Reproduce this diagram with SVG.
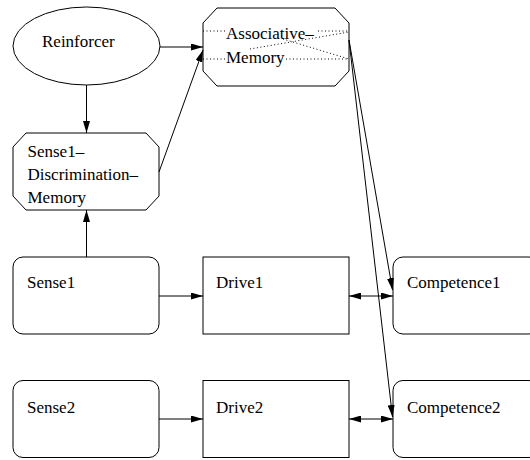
<svg xmlns="http://www.w3.org/2000/svg" width="530" height="460" viewBox="0 0 530 460">
  <style>
    .shape { fill: #ffffff; stroke: #000000; stroke-width: 1; }
    .lbl { font-family: "Liberation Serif", "Times New Roman", serif; font-size: 17px; fill: #000000; }
    .edge { fill: none; stroke: #000000; stroke-width: 1; }
    .dots { fill: none; stroke: #000000; stroke-width: 1; stroke-dasharray: 1 2.5; }
  </style>
  <defs>
    <marker id="ah" viewBox="0 0 12 7" refX="12" refY="3.5" markerWidth="12" markerHeight="7" orient="auto-start-reverse" markerUnits="userSpaceOnUse">
      <path d="M0,0 L12,3.5 L0,7 z" fill="#000000"/>
    </marker>
  </defs>

  <rect width="530" height="460" fill="#ffffff"/>

  <!-- nodes -->
  <g id="reinforcer">
    <ellipse class="shape" cx="86.5" cy="46" rx="73.5" ry="39"/>
    <text class="lbl" x="42" y="47">Reinforcer</text>
  </g>

  <g id="associative-memory">
    <polygon class="shape" points="217,8 335,8 349,23 349,71 335,86 217,86 203,71 203,23"/>
    <path class="dots" d="M203,31 H225 M318,31 H349 M203,59 H225 M286,59 H349 M250,49 L349,32 M283,39 L349,59"/>
    <text class="lbl" x="226" y="39">Associative–</text>
    <text class="lbl" x="226" y="63">Memory</text>
  </g>

  <g id="sense1-discrimination-memory">
    <polygon class="shape" points="26,133 146,133 159,147 159,196 146,210 26,210 13,196 13,147"/>
    <text class="lbl" x="27.5" y="157">Sense1–</text>
    <text class="lbl" x="27.5" y="180">Discrimination–</text>
    <text class="lbl" x="27.5" y="203">Memory</text>
  </g>

  <g id="sense1">
    <rect class="shape" x="13" y="257" width="146" height="77" rx="10"/>
    <text class="lbl" x="27" y="288">Sense1</text>
  </g>

  <g id="drive1">
    <rect class="shape" x="203" y="257" width="146" height="77"/>
    <text class="lbl" x="216" y="288">Drive1</text>
  </g>

  <g id="competence1">
    <rect class="shape" x="393" y="257" width="146" height="77" rx="10"/>
    <text class="lbl" x="407" y="288">Competence1</text>
  </g>

  <g id="sense2">
    <rect class="shape" x="13" y="380.5" width="146" height="77" rx="10"/>
    <text class="lbl" x="27" y="413">Sense2</text>
  </g>

  <g id="drive2">
    <rect class="shape" x="203" y="380.5" width="146" height="77"/>
    <text class="lbl" x="216" y="413">Drive2</text>
  </g>

  <g id="competence2">
    <rect class="shape" x="393" y="380.5" width="146" height="77" rx="10"/>
    <text class="lbl" x="407" y="413">Competence2</text>
  </g>

  <!-- connectors -->
  <g id="edges">
    <path class="edge" d="M160,47 L203,47" marker-end="url(#ah)"/>
    <path class="edge" d="M86.5,85 L86.5,133" marker-end="url(#ah)"/>
    <path class="edge" d="M159,172 L203,50" marker-end="url(#ah)"/>
    <path class="edge" d="M86.5,257 L86.5,210" marker-end="url(#ah)"/>
    <path class="edge" d="M159,296 L203,296" marker-end="url(#ah)"/>
    <path class="edge" d="M159,419 L203,419" marker-end="url(#ah)"/>
    <path class="edge" d="M349,296 L393,296" marker-start="url(#ah)" marker-end="url(#ah)"/>
    <path class="edge" d="M349,419 L393,419" marker-start="url(#ah)" marker-end="url(#ah)"/>
    <path class="edge" d="M349,40 L392.5,290" marker-end="url(#ah)"/>
    <path class="edge" d="M349,40 L392.5,417" marker-end="url(#ah)"/>
  </g>
</svg>
